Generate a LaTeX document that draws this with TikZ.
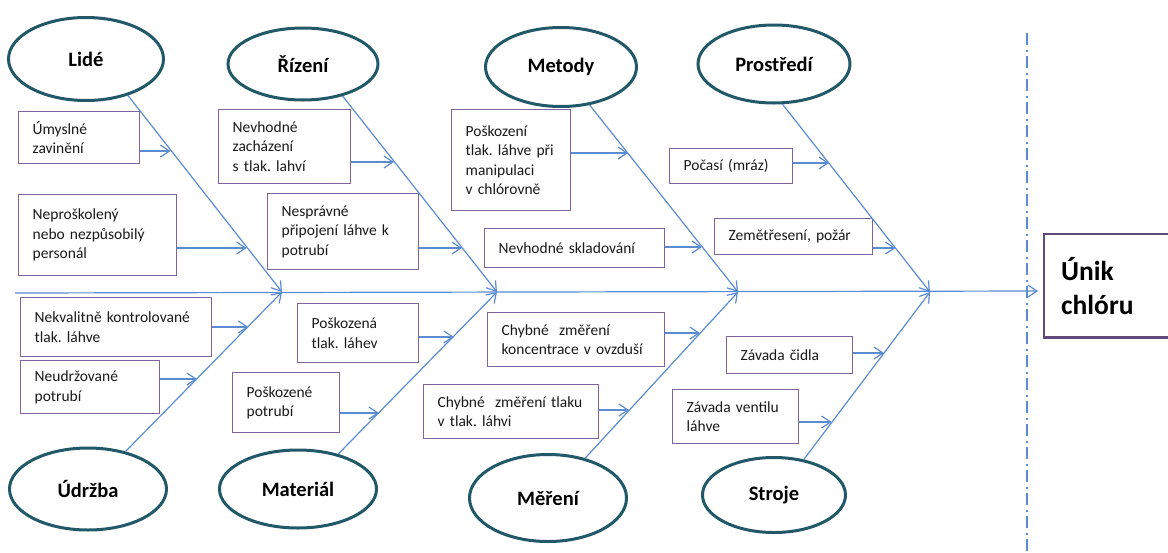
\documentclass[tikz,border=0pt]{standalone}
\usepackage{fontspec}
\setmainfont{Carlito}
\usepackage{xcolor}
\usetikzlibrary{arrows.meta,shapes.geometric}
\definecolor{ICBlue}{HTML}{5B8BD0}
\definecolor{ICTeal}{HTML}{215968}
\definecolor{ICPurple}{HTML}{8064A2}
\definecolor{ICPlum}{HTML}{604A7B}
\definecolor{ICText}{HTML}{1A1A1A}
\frenchspacing

\begin{document}
\begin{tikzpicture}[x=1pt,y=-1pt,
  cat/.style={ellipse,draw=ICTeal,line width=3pt,fill=white,inner sep=0pt,font=\fontsize{20.5}{24}\selectfont\bfseries},
  cause/.style={draw=ICPurple,line width=1.3pt,fill=white,anchor=north west,align=left,inner xsep=14pt,inner ysep=0pt,text=ICText,font=\fontsize{15.5}{19.5}\selectfont},
  result/.style={anchor=north west,align=left,inner xsep=17pt,inner ysep=0pt,font=\fontsize{27.5}{34}\selectfont\bfseries},
  bone/.style={ICBlue,line width=1.2pt,-{Straight Barb[length=9pt,width=12pt]}}]
\path[use as bounding box] (0,0) rectangle (1168,552);
% categories
\node[cat,minimum width=155pt,minimum height=83pt] (lide) at (86,59) {Lidé};
\node[cat,minimum width=150pt,minimum height=72pt] (rizeni) at (303,64) {Řízení};
\node[cat,minimum width=151pt,minimum height=79pt] (metody) at (561,67) {Metody};
\node[cat,minimum width=152pt,minimum height=78pt] (prostredi) at (774,64) {Prostředí};
\node[cat,minimum width=157pt,minimum height=82pt] (udrzba) at (88,489) {Údržba};
\node[cat,minimum width=157pt,minimum height=78pt] (material) at (298,489) {Materiál};
\node[cat,minimum width=157pt,minimum height=87pt] (mereni) at (548,498) {Měření};
\node[cat,minimum width=143pt,minimum height=75pt] (stroje) at (774,495) {Stroje};
% causes
\node[cause,text width=93pt,minimum height=52pt] (c1) at (18,111) {Úmyslné\\zavinění};
\node[cause,text width=130pt,minimum height=81pt] (c2) at (18,194) {Neproškolený\\nebo nezpůsobilý\\personál};
\node[cause,text width=104pt,minimum height=74pt] (c3) at (218,109) {Nevhodné\\zacházení\\s tlak. lahví};
\node[cause,text width=123pt,minimum height=76pt] (c4) at (267,193) {Nesprávné\\připojení láhve k\\potrubí};
\node[cause,text width=91pt,minimum height=101pt] (c5) at (451,109) {Poškození\\tlak. láhve při\\manipulaci\\v chlórovně};
\node[cause,text width=152pt,minimum height=39pt] (c6) at (484,228) {Nevhodné skladování};
\node[cause,text width=95pt,minimum height=35pt] (c7) at (669,148) {Počasí (mráz)};
\node[cause,text width=130pt,minimum height=36pt] (c8) at (714,218) {Zemětřesení, požár};
\node[cause,text width=163pt,minimum height=59pt] (c9) at (20,297) {Nekvalitně kontrolované\\tlak. láhve};
\node[cause,text width=111pt,minimum height=53pt] (c10) at (20,360) {Neudržované\\potrubí};
\node[cause,text width=93pt,minimum height=59pt] (c11) at (297,303) {Poškozená\\tlak. láhev};
\node[cause,text width=79pt,minimum height=60pt] (c12) at (232,372) {Poškozené\\potrubí};
\node[cause,text width=149pt,minimum height=54pt] (c13) at (487,312) {Chybné~ změření\\koncentrace v ovzduší};
\node[cause,text width=147pt,minimum height=54pt] (c14) at (423,384) {Chybné~ změření tlaku\\v tlak. láhvi};
\node[cause,text width=98pt,minimum height=37pt] (c15) at (726,336) {Závada čidla};
\node[cause,text width=98pt,minimum height=54pt] (c16) at (672,389) {Závada ventilu\\láhve};
% effect, cut off by the right edge
\node[result,text width=170pt,minimum height=103pt] (effect) at (1044,234) {Únik\\chlóru};
\begin{scope}
\clip (0,0) rectangle (1168,552);
\draw[ICPlum,line width=2.6pt] (effect.north east) -- (effect.north west) -- (effect.south west) -- (effect.south east);
\end{scope}
\draw[ICBlue,line width=1.5pt,dash pattern=on 12pt off 4.5pt on 2pt off 4.5pt] (1027,33) -- (1027,552);
% spine and ribs
\coordinate (s0) at (15,293);
\coordinate (s1) at (1038,291);
\coordinate (j1) at (282,292);
\coordinate (j2) at (497,292);
\coordinate (j3) at (738,292);
\coordinate (j4) at (930,292);
\draw[bone] (s0) -- (s1);
\draw[bone] (lide.-41) -- (j1);
\draw[bone] (rizeni.-39) -- (j2);
\draw[bone] (metody.-53) -- (j3);
\draw[bone] (prostredi.-78) -- (j4);
\draw[bone] (udrzba.45) -- (j1);
\draw[bone] (material.41) -- (j2);
\draw[bone] (mereni.47) -- (j3);
\draw[bone] (stroje.50) -- (j4);
% cause arrows
\coordinate (t1) at (170.5,151);
\coordinate (t2) at (246.7,248);
\coordinate (t3) at (394,162);
\coordinate (t4) at (462,248);
\coordinate (t5) at (628,153);
\coordinate (t6) at (702,247);
\coordinate (t7) at (829,163);
\coordinate (t8) at (895.5,248);
\coordinate (t9) at (248.4,327);
\coordinate (t10) at (197,379);
\coordinate (t11) at (453.8,337);
\coordinate (t12) at (379,413);
\coordinate (t13) at (700,333);
\coordinate (t14) at (629,410);
\coordinate (t15) at (884,353);
\coordinate (t16) at (831.7,422);
\foreach \i in {1,...,16}
  \draw[bone] (c\i.east |- t\i) -- (t\i);
\end{tikzpicture}
\end{document}
